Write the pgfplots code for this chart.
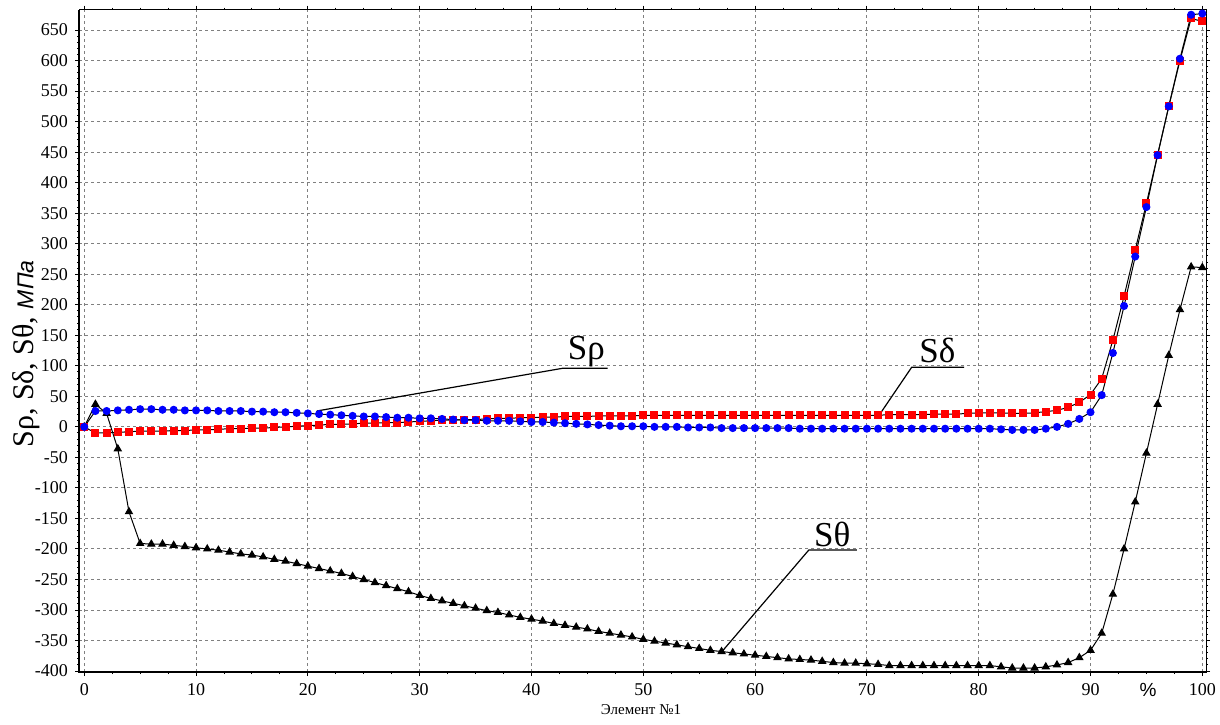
\documentclass[border=0pt]{standalone}
\usepackage{fontspec}
\setmainfont{Liberation Serif}
\setsansfont{Liberation Sans}
\newfontfamily\tnr{Liberation Serif}
\newfontfamily\arl{Liberation Sans}
\usepackage{pgfplots}
\usepackage{pgfplotstable}
\pgfplotsset{compat=1.18}

% x = element position, %; stresses in MPa
\pgfplotstableread{
x srho sdelta stheta
0 0 0 0
1 26 -10 37
2 26 -10 22
3 27 -9 -36
4 28 -8 -139
5 29 -7 -191
6 29 -7 -192
7 28 -7 -192
8 28 -6 -194
9 27 -6 -196
10 27 -5 -198
11 27 -5 -200
12 26 -4 -202
13 26 -3 -205
14 26 -3 -208
15 25 -2 -210
16 25 -2 -213
17 24 -1 -217
18 24 0 -220
19 23 1 -224
20 22 2 -228
21 21 3 -232
22 20 4 -236
23 19 4 -240
24 18 5 -245
25 17 6 -250
26 17 6 -255
27 16 7 -260
28 15 7 -265
29 15 8 -270
30 14 9 -276
31 14 10 -281
32 13 11 -285
33 12 11 -289
34 11 12 -293
35 11 12 -297
36 10 13 -301
37 10 14 -304
38 10 14 -308
39 9 15 -312
40 8 15 -315
41 8 16 -318
42 7 16 -322
43 6 17 -325
44 5 17 -328
45 4 17 -331
46 3 18 -335
47 2 18 -338
48 1 18 -341
49 1 18 -344
50 1 19 -348
51 0 19 -351
52 0 19 -354
53 0 19 -357
54 -1 19 -360
55 -1 19 -363
56 -1 19 -366
57 -2 19 -368
58 -2 19 -370
59 -2 19 -372
60 -2 19 -374
61 -2 19 -376
62 -2 19 -378
63 -2 19 -380
64 -3 19 -381
65 -3 19 -382
66 -3 19 -384
67 -3 19 -386
68 -3 19 -387
69 -3 19 -387
70 -3 19 -388
71 -3 19 -389
72 -3 20 -391
73 -3 20 -391
74 -3 20 -391
75 -3 20 -391
76 -3 21 -391
77 -3 21 -391
78 -3 21 -391
79 -3 22 -391
80 -3 23 -391
81 -3 23 -391
82 -4 23 -393
83 -5 22 -395
84 -5 22 -395
85 -5 23 -395
86 -3 25 -393
87 0 27 -390
88 5 32 -386
89 13 40 -378
90 24 53 -366
91 52 79 -338
92 121 142 -274
93 198 214 -200
94 279 290 -123
95 360 366 -43
96 445 446 37
97 525 525 117
98 603 600 192
99 675 669 262
100 677 664 261
}\stress

\begin{document}
\begin{tikzpicture}
\useasboundingbox (0,0) rectangle (610pt,362pt);
\begin{axis}[
  at={(39.5pt,26pt)}, anchor=south west, scale only axis,
  width=563.5pt, height=331.25pt,
  xmin=-0.47, xmax=100.33, ymin=-401.5, ymax=683.6,
  xtick={0,10,...,100}, ytick={-400,-350,...,650},
  minor x tick num=3, minor y tick num=4,
  tick align=outside, major tick length=2pt, minor tick length=1pt,
  tick style={black, line width=0.5pt},
  grid=major,
  major grid style={gray, dash pattern=on 1.5pt off 1.5pt, line width=0.5pt},
  axis line style={line width=0.5pt},
  /pgf/number format/assume math mode=true,
  ticklabel style={font=\tnr\fontsize{9}{9}\selectfont},
  clip=false,
]
\addplot[black, line width=0.5pt, mark=triangle*, mark size=2pt,
  mark options={solid, fill=black}] table[x=x, y=stheta] {\stress};
\addplot[black, line width=0.5pt, mark=square*, mark size=1.75pt,
  mark options={solid, fill=red, draw=red}] table[x=x, y=sdelta] {\stress};
\addplot[black, line width=0.5pt, mark=*, mark size=1.75pt,
  mark options={solid, fill=blue, draw=blue}] table[x=x, y=srho] {\stress};

\draw[line width=1.3pt] (rel axis cs:0,1) -- (rel axis cs:0,0) -- (rel axis cs:1,0);

% callouts
\draw[line width=0.6pt] (axis cs:20.8,26) -- (axis cs:42.8,96) -- (axis cs:46.8,96);
\node[anchor=base, inner sep=0pt, font=\tnr\fontsize{17.5}{18}\selectfont] at (axis cs:44.9,110) {Sρ};
\draw[line width=0.6pt] (axis cs:71.2,22) -- (axis cs:74.0,97.5) -- (axis cs:78.7,97.5);
\node[anchor=base, inner sep=0pt, font=\tnr\fontsize{17.5}{18}\selectfont] at (axis cs:76.3,105) {Sδ};
\draw[line width=0.6pt] (axis cs:57.1,-366.7) -- (axis cs:64.8,-201.8) -- (axis cs:69.1,-201.8);
\node[anchor=base, inner sep=0pt, font=\tnr\fontsize{17.5}{18}\selectfont] at (axis cs:66.9,-196.4) {Sθ};
\end{axis}

\node[rotate=90, inner sep=0pt] at (13pt,185pt)
  {\tnr\fontsize{15}{15}\selectfont Sρ, Sδ, Sθ, {\arl\itshape\fontsize{11.5}{11.5}\selectfont МПа}};
\node[inner sep=0pt, font=\tnr\fontsize{7.5}{8}\selectfont] at (320.5pt,7pt) {Элемент №1};
\node[inner sep=0pt, font=\arl\fontsize{9.5}{10}\selectfont] at (574pt,17pt) {\%};
\end{tikzpicture}
\end{document}
